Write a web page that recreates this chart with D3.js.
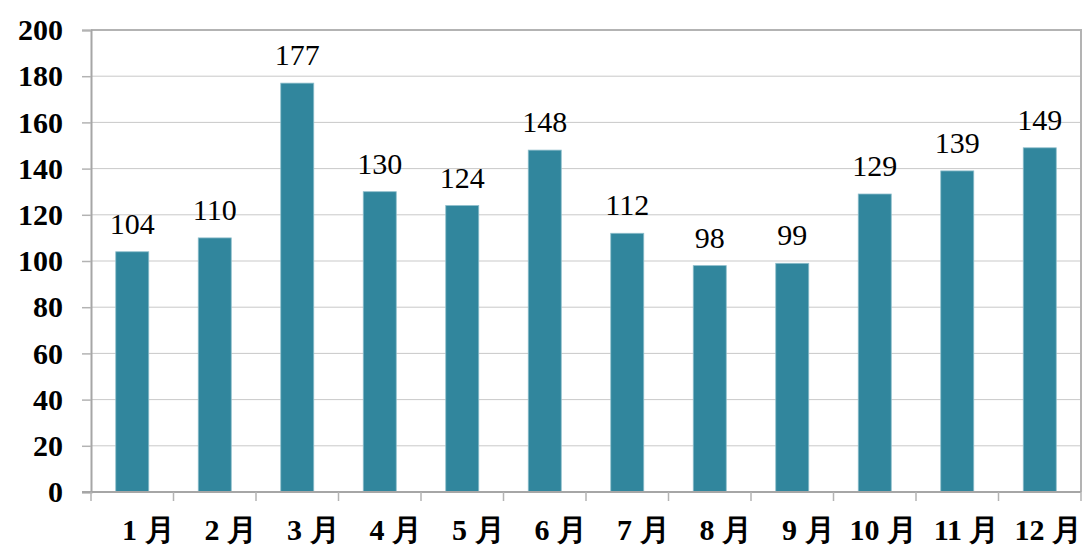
<!DOCTYPE html>
<html>
<head>
<meta charset="utf-8">
<script src="https://cdn.jsdelivr.net/npm/d3@7"></script>
<style>
  html, body { margin: 0; padding: 0; background: #fff; }
  svg { display: block; }
</style>
</head>
<body>
<svg id="chart" width="1086" height="545"></svg>
<script>
const months = ['1 月', '2 月', '3 月', '4 月', '5 月', '6 月', '7 月', '8 月', '9 月', '10 月', '11 月', '12 月'];
const counts = [104, 110, 177, 130, 124, 148, 112, 98, 99, 129, 139, 149];
const yTicks = [0, 20, 40, 60, 80, 100, 120, 140, 160, 180, 200];

const W = 1086, H = 545;
const margin = { top: 30, right: 5, bottom: 53, left: 91 };
const plotW = W - margin.left - margin.right;
const plotH = H - margin.top - margin.bottom;

const svg = d3.select('#chart');
const g = svg.append('g').attr('transform', `translate(${margin.left},${margin.top})`);

const x = d3.scaleBand().domain(months).range([0, plotW]).paddingInner(0.6).paddingOuter(0.3);
const y = d3.scaleLinear().domain([0, 200]).range([plotH, 0]);
const step = x.step();

// gridlines
g.selectAll('.grid')
  .data(yTicks.filter(d => d > 0 && d < 200))
  .enter().append('line')
  .attr('x1', 0).attr('x2', plotW)
  .attr('y1', d => y(d)).attr('y2', d => y(d))
  .attr('stroke', '#c9c9c9').attr('stroke-width', 1);

// frame top + right
g.append('path')
  .attr('d', `M0,0H${plotW}V${plotH}`)
  .attr('fill', 'none').attr('stroke', '#b3b3b3').attr('stroke-width', 2);

// bars
g.selectAll('.bar')
  .data(counts)
  .enter().append('rect')
  .attr('x', (d, i) => x(months[i]))
  .attr('y', d => y(d))
  .attr('width', x.bandwidth())
  .attr('height', d => plotH - y(d))
  .attr('fill', '#31869d')
  .attr('stroke', '#8dbdcb').attr('stroke-width', 0.8);

// value labels
g.selectAll('.val')
  .data(counts)
  .enter().append('text')
  .attr('x', (d, i) => x(months[i]) + x.bandwidth() / 2)
  .attr('y', d => y(d) - 18)
  .attr('text-anchor', 'middle')
  .attr('font-family', 'Liberation Serif, Times New Roman, serif')
  .attr('font-size', 30)
  .attr('fill', '#000')
  .text(d => d);

// y axis
const yAxis = g.append('g')
  .call(d3.axisLeft(y).tickValues(yTicks).tickSize(9).tickPadding(19));
yAxis.select('.domain').attr('stroke', '#a6a6a6').attr('stroke-width', 2);
yAxis.selectAll('.tick line').attr('stroke', '#b3b3b3').attr('stroke-width', 1.5);
yAxis.selectAll('.tick text')
  .attr('font-family', 'Liberation Serif, Times New Roman, serif')
  .attr('font-size', 30).attr('font-weight', 'bold').attr('fill', '#000');

// x axis
const xAxisG = g.append('g').attr('transform', `translate(0,${plotH})`);
xAxisG.append('line')
  .attr('x1', -9).attr('x2', plotW)
  .attr('stroke', '#a6a6a6').attr('stroke-width', 2);
const bounds = d3.range(months.length + 1).map(i => i * step);
xAxisG.selectAll('.xt')
  .data(bounds)
  .enter().append('line')
  .attr('x1', d => d).attr('x2', d => d)
  .attr('y1', 0).attr('y2', 9)
  .attr('stroke', '#b3b3b3').attr('stroke-width', 1.5);
xAxisG.selectAll('.xl')
  .data(months)
  .enter().append('text')
  .attr('x', d => x(d) - x.paddingOuter() * step + step + 1)
  .attr('y', 48)
  .attr('text-anchor', 'end')
  .attr('font-family', 'Liberation Serif, Times New Roman, serif')
  .attr('font-size', 30).attr('font-weight', 'bold').attr('fill', '#000')
  .text(d => d);
</script>
</body>
</html>
